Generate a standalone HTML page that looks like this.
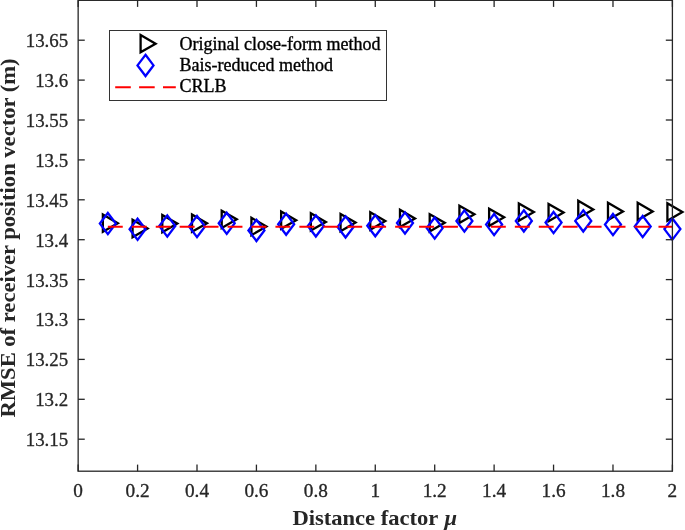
<!DOCTYPE html>
<html><head><meta charset="utf-8"><style>
html,body{margin:0;padding:0;background:#fff;}
body{width:685px;height:530px;overflow:hidden;}
svg{display:block;}
text{font-family:'Liberation Serif','Times New Roman',serif;}
</style></head><body>
<svg width="685" height="530" viewBox="0 0 685 530">
<rect width="685" height="530" fill="#fff"/>
<g>
<polygon points="117.86,223.20 102.86,214.54 102.86,231.86" fill="none" stroke="#000" stroke-width="2.3" stroke-linejoin="miter"/>
<polygon points="147.58,228.50 132.58,219.84 132.58,237.16" fill="none" stroke="#000" stroke-width="2.3" stroke-linejoin="miter"/>
<polygon points="177.29,223.60 162.29,214.94 162.29,232.26" fill="none" stroke="#000" stroke-width="2.3" stroke-linejoin="miter"/>
<polygon points="207.00,223.20 192.00,214.54 192.00,231.86" fill="none" stroke="#000" stroke-width="2.3" stroke-linejoin="miter"/>
<polygon points="236.71,219.30 221.71,210.64 221.71,227.96" fill="none" stroke="#000" stroke-width="2.3" stroke-linejoin="miter"/>
<polygon points="266.43,226.50 251.43,217.84 251.43,235.16" fill="none" stroke="#000" stroke-width="2.3" stroke-linejoin="miter"/>
<polygon points="296.14,220.20 281.14,211.54 281.14,228.86" fill="none" stroke="#000" stroke-width="2.3" stroke-linejoin="miter"/>
<polygon points="325.85,221.90 310.85,213.24 310.85,230.56" fill="none" stroke="#000" stroke-width="2.3" stroke-linejoin="miter"/>
<polygon points="355.56,222.60 340.56,213.94 340.56,231.26" fill="none" stroke="#000" stroke-width="2.3" stroke-linejoin="miter"/>
<polygon points="385.27,221.00 370.27,212.34 370.27,229.66" fill="none" stroke="#000" stroke-width="2.3" stroke-linejoin="miter"/>
<polygon points="414.99,218.40 399.99,209.74 399.99,227.06" fill="none" stroke="#000" stroke-width="2.3" stroke-linejoin="miter"/>
<polygon points="444.70,222.80 429.70,214.14 429.70,231.46" fill="none" stroke="#000" stroke-width="2.3" stroke-linejoin="miter"/>
<polygon points="474.41,214.30 459.41,205.64 459.41,222.96" fill="none" stroke="#000" stroke-width="2.3" stroke-linejoin="miter"/>
<polygon points="504.12,217.30 489.12,208.64 489.12,225.96" fill="none" stroke="#000" stroke-width="2.3" stroke-linejoin="miter"/>
<polygon points="533.84,212.10 518.84,203.44 518.84,220.76" fill="none" stroke="#000" stroke-width="2.3" stroke-linejoin="miter"/>
<polygon points="563.55,212.60 548.55,203.94 548.55,221.26" fill="none" stroke="#000" stroke-width="2.3" stroke-linejoin="miter"/>
<polygon points="593.26,209.40 578.26,200.74 578.26,218.06" fill="none" stroke="#000" stroke-width="2.3" stroke-linejoin="miter"/>
<polygon points="622.98,211.40 607.98,202.74 607.98,220.06" fill="none" stroke="#000" stroke-width="2.3" stroke-linejoin="miter"/>
<polygon points="652.69,211.40 637.69,202.74 637.69,220.06" fill="none" stroke="#000" stroke-width="2.3" stroke-linejoin="miter"/>
<polygon points="682.40,212.00 667.40,203.34 667.40,220.66" fill="none" stroke="#000" stroke-width="2.3" stroke-linejoin="miter"/>
<polygon points="107.86,213.00 115.86,223.60 107.86,234.20 99.86,223.60" fill="none" stroke="#0000ff" stroke-width="2.3" stroke-linejoin="miter"/>
<polygon points="137.58,218.70 145.58,229.30 137.58,239.90 129.58,229.30" fill="none" stroke="#0000ff" stroke-width="2.3" stroke-linejoin="miter"/>
<polygon points="167.29,215.40 175.29,226.00 167.29,236.60 159.29,226.00" fill="none" stroke="#0000ff" stroke-width="2.3" stroke-linejoin="miter"/>
<polygon points="197.00,215.90 205.00,226.50 197.00,237.10 189.00,226.50" fill="none" stroke="#0000ff" stroke-width="2.3" stroke-linejoin="miter"/>
<polygon points="226.71,212.70 234.71,223.30 226.71,233.90 218.71,223.30" fill="none" stroke="#0000ff" stroke-width="2.3" stroke-linejoin="miter"/>
<polygon points="256.43,219.80 264.43,230.40 256.43,241.00 248.43,230.40" fill="none" stroke="#0000ff" stroke-width="2.3" stroke-linejoin="miter"/>
<polygon points="286.14,213.60 294.14,224.20 286.14,234.80 278.14,224.20" fill="none" stroke="#0000ff" stroke-width="2.3" stroke-linejoin="miter"/>
<polygon points="315.85,215.30 323.85,225.90 315.85,236.50 307.85,225.90" fill="none" stroke="#0000ff" stroke-width="2.3" stroke-linejoin="miter"/>
<polygon points="345.56,216.30 353.56,226.90 345.56,237.50 337.56,226.90" fill="none" stroke="#0000ff" stroke-width="2.3" stroke-linejoin="miter"/>
<polygon points="375.27,215.10 383.27,225.70 375.27,236.30 367.27,225.70" fill="none" stroke="#0000ff" stroke-width="2.3" stroke-linejoin="miter"/>
<polygon points="404.99,212.40 412.99,223.00 404.99,233.60 396.99,223.00" fill="none" stroke="#0000ff" stroke-width="2.3" stroke-linejoin="miter"/>
<polygon points="434.70,217.50 442.70,228.10 434.70,238.70 426.70,228.10" fill="none" stroke="#0000ff" stroke-width="2.3" stroke-linejoin="miter"/>
<polygon points="464.41,210.40 472.41,221.00 464.41,231.60 456.41,221.00" fill="none" stroke="#0000ff" stroke-width="2.3" stroke-linejoin="miter"/>
<polygon points="494.12,214.00 502.12,224.60 494.12,235.20 486.12,224.60" fill="none" stroke="#0000ff" stroke-width="2.3" stroke-linejoin="miter"/>
<polygon points="523.84,210.30 531.84,220.90 523.84,231.50 515.84,220.90" fill="none" stroke="#0000ff" stroke-width="2.3" stroke-linejoin="miter"/>
<polygon points="553.55,212.00 561.55,222.60 553.55,233.20 545.55,222.60" fill="none" stroke="#0000ff" stroke-width="2.3" stroke-linejoin="miter"/>
<polygon points="583.26,210.30 591.26,220.90 583.26,231.50 575.26,220.90" fill="none" stroke="#0000ff" stroke-width="2.3" stroke-linejoin="miter"/>
<polygon points="612.98,214.00 620.98,224.60 612.98,235.20 604.98,224.60" fill="none" stroke="#0000ff" stroke-width="2.3" stroke-linejoin="miter"/>
<polygon points="642.69,215.90 650.69,226.50 642.69,237.10 634.69,226.50" fill="none" stroke="#0000ff" stroke-width="2.3" stroke-linejoin="miter"/>
<polygon points="672.40,218.50 680.40,229.10 672.40,239.70 664.40,229.10" fill="none" stroke="#0000ff" stroke-width="2.3" stroke-linejoin="miter"/>
<line x1="107.86" y1="226.7" x2="672.40" y2="226.7" stroke="#ff0000" stroke-width="2" stroke-dasharray="14.9 9.04"/>
</g>
<g>
<line x1="78.15" y1="0.5" x2="672.4" y2="0.5" stroke="#000" stroke-width="1" opacity="0.5"/>
<rect x="78.15" y="0.3" width="594.25" height="470.90" fill="none" stroke="#262626" stroke-width="1.3"/>
<line x1="78.15" y1="471.2" x2="78.15" y2="464.59999999999997" stroke="#262626" stroke-width="1.3"/>
<line x1="78.15" y1="0.3" x2="78.15" y2="6.8999999999999995" stroke="#262626" stroke-width="1.3"/>
<line x1="137.58" y1="471.2" x2="137.58" y2="464.59999999999997" stroke="#262626" stroke-width="1.3"/>
<line x1="137.58" y1="0.3" x2="137.58" y2="6.8999999999999995" stroke="#262626" stroke-width="1.3"/>
<line x1="197.00" y1="471.2" x2="197.00" y2="464.59999999999997" stroke="#262626" stroke-width="1.3"/>
<line x1="197.00" y1="0.3" x2="197.00" y2="6.8999999999999995" stroke="#262626" stroke-width="1.3"/>
<line x1="256.43" y1="471.2" x2="256.43" y2="464.59999999999997" stroke="#262626" stroke-width="1.3"/>
<line x1="256.43" y1="0.3" x2="256.43" y2="6.8999999999999995" stroke="#262626" stroke-width="1.3"/>
<line x1="315.85" y1="471.2" x2="315.85" y2="464.59999999999997" stroke="#262626" stroke-width="1.3"/>
<line x1="315.85" y1="0.3" x2="315.85" y2="6.8999999999999995" stroke="#262626" stroke-width="1.3"/>
<line x1="375.27" y1="471.2" x2="375.27" y2="464.59999999999997" stroke="#262626" stroke-width="1.3"/>
<line x1="375.27" y1="0.3" x2="375.27" y2="6.8999999999999995" stroke="#262626" stroke-width="1.3"/>
<line x1="434.70" y1="471.2" x2="434.70" y2="464.59999999999997" stroke="#262626" stroke-width="1.3"/>
<line x1="434.70" y1="0.3" x2="434.70" y2="6.8999999999999995" stroke="#262626" stroke-width="1.3"/>
<line x1="494.12" y1="471.2" x2="494.12" y2="464.59999999999997" stroke="#262626" stroke-width="1.3"/>
<line x1="494.12" y1="0.3" x2="494.12" y2="6.8999999999999995" stroke="#262626" stroke-width="1.3"/>
<line x1="553.55" y1="471.2" x2="553.55" y2="464.59999999999997" stroke="#262626" stroke-width="1.3"/>
<line x1="553.55" y1="0.3" x2="553.55" y2="6.8999999999999995" stroke="#262626" stroke-width="1.3"/>
<line x1="612.98" y1="471.2" x2="612.98" y2="464.59999999999997" stroke="#262626" stroke-width="1.3"/>
<line x1="612.98" y1="0.3" x2="612.98" y2="6.8999999999999995" stroke="#262626" stroke-width="1.3"/>
<line x1="672.40" y1="471.2" x2="672.40" y2="464.59999999999997" stroke="#262626" stroke-width="1.3"/>
<line x1="672.40" y1="0.3" x2="672.40" y2="6.8999999999999995" stroke="#262626" stroke-width="1.3"/>
<line x1="78.15" y1="439.20" x2="84.75" y2="439.20" stroke="#262626" stroke-width="1.3"/>
<line x1="672.4" y1="439.20" x2="665.8" y2="439.20" stroke="#262626" stroke-width="1.3"/>
<line x1="78.15" y1="399.30" x2="84.75" y2="399.30" stroke="#262626" stroke-width="1.3"/>
<line x1="672.4" y1="399.30" x2="665.8" y2="399.30" stroke="#262626" stroke-width="1.3"/>
<line x1="78.15" y1="359.40" x2="84.75" y2="359.40" stroke="#262626" stroke-width="1.3"/>
<line x1="672.4" y1="359.40" x2="665.8" y2="359.40" stroke="#262626" stroke-width="1.3"/>
<line x1="78.15" y1="319.50" x2="84.75" y2="319.50" stroke="#262626" stroke-width="1.3"/>
<line x1="672.4" y1="319.50" x2="665.8" y2="319.50" stroke="#262626" stroke-width="1.3"/>
<line x1="78.15" y1="279.60" x2="84.75" y2="279.60" stroke="#262626" stroke-width="1.3"/>
<line x1="672.4" y1="279.60" x2="665.8" y2="279.60" stroke="#262626" stroke-width="1.3"/>
<line x1="78.15" y1="239.70" x2="84.75" y2="239.70" stroke="#262626" stroke-width="1.3"/>
<line x1="672.4" y1="239.70" x2="665.8" y2="239.70" stroke="#262626" stroke-width="1.3"/>
<line x1="78.15" y1="199.80" x2="84.75" y2="199.80" stroke="#262626" stroke-width="1.3"/>
<line x1="672.4" y1="199.80" x2="665.8" y2="199.80" stroke="#262626" stroke-width="1.3"/>
<line x1="78.15" y1="159.90" x2="84.75" y2="159.90" stroke="#262626" stroke-width="1.3"/>
<line x1="672.4" y1="159.90" x2="665.8" y2="159.90" stroke="#262626" stroke-width="1.3"/>
<line x1="78.15" y1="120.00" x2="84.75" y2="120.00" stroke="#262626" stroke-width="1.3"/>
<line x1="672.4" y1="120.00" x2="665.8" y2="120.00" stroke="#262626" stroke-width="1.3"/>
<line x1="78.15" y1="80.10" x2="84.75" y2="80.10" stroke="#262626" stroke-width="1.3"/>
<line x1="672.4" y1="80.10" x2="665.8" y2="80.10" stroke="#262626" stroke-width="1.3"/>
<line x1="78.15" y1="40.20" x2="84.75" y2="40.20" stroke="#262626" stroke-width="1.3"/>
<line x1="672.4" y1="40.20" x2="665.8" y2="40.20" stroke="#262626" stroke-width="1.3"/>
</g>
<g font-size="18" fill="#262626" stroke="#262626" stroke-width="0.3">
<text transform="translate(78.15,497.2) scale(1.07,1)" text-anchor="middle">0</text>
<text transform="translate(137.58,497.2) scale(1.07,1)" text-anchor="middle">0.2</text>
<text transform="translate(197.00,497.2) scale(1.07,1)" text-anchor="middle">0.4</text>
<text transform="translate(256.43,497.2) scale(1.07,1)" text-anchor="middle">0.6</text>
<text transform="translate(315.85,497.2) scale(1.07,1)" text-anchor="middle">0.8</text>
<text transform="translate(375.27,497.2) scale(1.07,1)" text-anchor="middle">1</text>
<text transform="translate(434.70,497.2) scale(1.07,1)" text-anchor="middle">1.2</text>
<text transform="translate(494.12,497.2) scale(1.07,1)" text-anchor="middle">1.4</text>
<text transform="translate(553.55,497.2) scale(1.07,1)" text-anchor="middle">1.6</text>
<text transform="translate(612.98,497.2) scale(1.07,1)" text-anchor="middle">1.8</text>
<text transform="translate(672.40,497.2) scale(1.07,1)" text-anchor="middle">2</text>
<text transform="translate(68.2,446.10) scale(1.05,1)" text-anchor="end">13.15</text>
<text transform="translate(68.2,406.20) scale(1.05,1)" text-anchor="end">13.2</text>
<text transform="translate(68.2,366.30) scale(1.05,1)" text-anchor="end">13.25</text>
<text transform="translate(68.2,326.40) scale(1.05,1)" text-anchor="end">13.3</text>
<text transform="translate(68.2,286.50) scale(1.05,1)" text-anchor="end">13.35</text>
<text transform="translate(68.2,246.60) scale(1.05,1)" text-anchor="end">13.4</text>
<text transform="translate(68.2,206.70) scale(1.05,1)" text-anchor="end">13.45</text>
<text transform="translate(68.2,166.80) scale(1.05,1)" text-anchor="end">13.5</text>
<text transform="translate(68.2,126.90) scale(1.05,1)" text-anchor="end">13.55</text>
<text transform="translate(68.2,87.00) scale(1.05,1)" text-anchor="end">13.6</text>
<text transform="translate(68.2,47.10) scale(1.05,1)" text-anchor="end">13.65</text>
</g>
<text transform="translate(374.7,524.6) scale(1.05,1)" text-anchor="middle" font-size="21.5" font-weight="bold" fill="#262626">Distance factor <tspan font-style="italic" dx="0.8">μ</tspan></text>
<text transform="translate(14.7,238) rotate(-90) scale(1.05,1)" text-anchor="middle" font-size="21.5" font-weight="bold" fill="#262626">RMSE of receiver position vector (m)</text>
<!-- legend -->
<rect x="109.5" y="30.5" width="277" height="70" fill="#fff" stroke="#333" stroke-width="1"/>
<polygon points="155.60,43.70 140.60,35.04 140.60,52.36" fill="none" stroke="#000" stroke-width="2.3"/>
<polygon points="145.50,54.80 153.50,65.40 145.50,76.00 137.50,65.40" fill="none" stroke="#0000ff" stroke-width="2.3"/>
<line x1="115.2" y1="87.2" x2="175.8" y2="87.2" stroke="#ff0000" stroke-width="2" stroke-dasharray="15.6 8.3"/>
<g font-size="18" fill="#000" stroke="#000" stroke-width="0.35">
<text x="179.6" y="49.6">Original close-form method</text>
<text x="179.6" y="71">Bais-reduced method</text>
<text x="179.6" y="92.4">CRLB</text>
</g>
</svg>
</body></html>
